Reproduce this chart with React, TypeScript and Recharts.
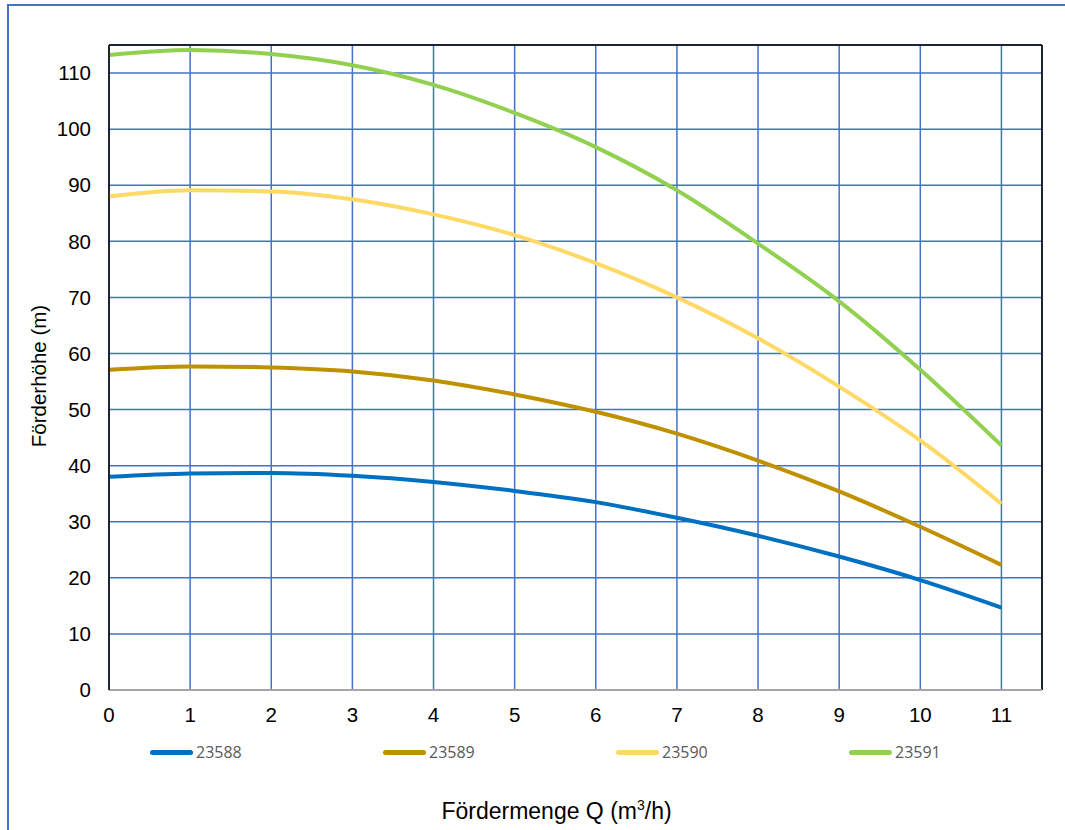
import React from "react";
import { LineChart, Line, XAxis, YAxis, CartesianGrid, ReferenceLine } from "recharts";

const flows = [0, 1, 2, 3, 4, 5, 6, 7, 8, 9, 10, 11];
const s23588 = [38, 38.6, 38.7, 38.2, 37.1, 35.5, 33.5, 30.7, 27.5, 23.8, 19.6, 14.7];
const s23589 = [57.1, 57.7, 57.5, 56.8, 55.2, 52.7, 49.6, 45.7, 40.9, 35.4, 29.1, 22.3];
const s23590 = [88, 89.1, 88.9, 87.5, 84.8, 81.1, 76.1, 70, 62.7, 54.1, 44.5, 33.2];
const s23591 = [113.2, 114.1, 113.4, 111.4, 107.9, 102.9, 96.8, 89.1, 79.6, 69.3, 57.1, 43.6];
const xTicks = [0, 1, 2, 3, 4, 5, 6, 7, 8, 9, 10, 11];
const yTicks = [0, 10, 20, 30, 40, 50, 60, 70, 80, 90, 100, 110];

const seriesNames = ["23588", "23589", "23590", "23591"];
const seriesColors = ["#0070C0", "#BF9000", "#FFD966", "#92D050"];
const seriesValues = [s23588, s23589, s23590, s23591];

const data = flows.map((q, i) => {
  const row: any = { q };
  seriesNames.forEach((n, k) => (row[n] = seriesValues[k][i]));
  return row;
});

const font = "'Liberation Sans', Arial, sans-serif";

export default function App() {
  const yAxisWidth = 60;
  return (
    <div style={{ position: "fixed", left: 0, top: 0, width: 1065, height: 830, background: "#fff", fontFamily: font, overflow: "hidden" }}>
      <div style={{ position: "absolute", left: 7, top: 4, width: 1070, height: 840, border: "2px solid #4472C4", boxSizing: "border-box" }} />
      <LineChart
        width={1065}
        height={830}
        data={data}
        margin={{ top: 45, right: 23, bottom: 110, left: 109 - yAxisWidth }}
        style={{ position: "absolute", left: 0, top: 0 }}
      >
        <CartesianGrid stroke="#4472C4" strokeWidth={1.5} />
        <XAxis
          dataKey="q"
          type="number"
          domain={[0, 11.5]}
          ticks={xTicks}
          height={30}
          axisLine={{ stroke: "#A6A6A6", strokeWidth: 2 }}
          tickLine={false}
          tick={{ fill: "#000", fontSize: 20.5, fontFamily: font }}
          tickMargin={11}
        />
        <YAxis
          type="number"
          domain={[0, 115]}
          ticks={yTicks}
          width={yAxisWidth}
          axisLine={{ stroke: "#000", strokeWidth: 1.5 }}
          tickLine={false}
          tick={{ fill: "#000", fontSize: 20.5, fontFamily: font }}
          tickMargin={12}
          interval={0}
        />
        <ReferenceLine y={115} stroke="#000" strokeWidth={1.5} />
        <ReferenceLine x={11.5} stroke="#000" strokeWidth={1.5} />
        {seriesNames.map((n, k) => (
          <Line
            key={n}
            dataKey={n}
            type="monotone"
            stroke={seriesColors[k]}
            strokeWidth={4}
            dot={false}
            activeDot={false}
            isAnimationActive={false}
          />
        ))}
      </LineChart>
      {seriesNames.map((n, k) => (
        <div key={n} style={{ position: "absolute", left: 150 + k * 233, top: 741, display: "flex", alignItems: "center", fontFamily: "'Open Sans', 'Noto Sans', sans-serif", fontSize: 16, color: "#595959" }}>
          <div style={{ width: 43, height: 5, borderRadius: 3, background: seriesColors[k], marginRight: 3 }} />
          <span>{n}</span>
        </div>
      ))}
      <div style={{ position: "absolute", left: 0, width: 1113, top: 798, textAlign: "center", fontSize: 23, color: "#000", whiteSpace: "nowrap" }}>
        Fördermenge Q (m<sup style={{ fontSize: 14, verticalAlign: "9px", lineHeight: 0 }}>3</sup>/h)
      </div>
      <div style={{ position: "absolute", left: 39, top: 376, transform: "translate(-50%, -50%) rotate(-90deg)", whiteSpace: "nowrap", fontSize: 20.5, color: "#000" }}>
        Förderhöhe (m)
      </div>
    </div>
  );
}
